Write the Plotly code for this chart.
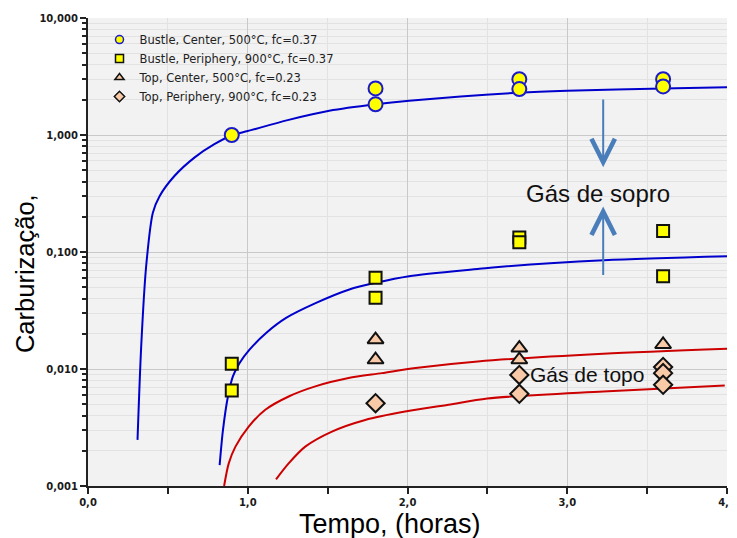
import math
import plotly.graph_objects as go

# ---------------- data ----------------
circle_x = [0.9, 1.8, 1.8, 2.7, 2.7, 3.6, 3.6]
circle_y = [1.0, 2.50, 1.83, 3.0, 2.47, 3.0, 2.6]

square_x = [0.9, 0.9, 1.8, 1.8, 2.7, 2.7, 3.6, 3.6]
square_y = [0.0111, 0.00655, 0.0601, 0.0406, 0.133, 0.121, 0.151, 0.0621]

tri_x = [1.8, 1.8, 2.7, 2.7, 3.6]
tri_y = [0.0178, 0.0120, 0.0151, 0.0120, 0.0162]

dia_x = [1.8, 2.7, 2.7, 3.6, 3.6, 3.6]
dia_y = [0.0051, 0.0089, 0.00614, 0.0104, 0.00922, 0.00733]

blue1_x = [0.31, 0.333, 0.364, 0.406, 0.448, 0.541, 0.666, 0.791, 0.905, 1.0, 1.25, 1.51, 1.80, 2.01, 2.70, 3.0, 3.60, 4.0]
blue1_y = [0.00248, 0.0156, 0.0755, 0.217, 0.30, 0.446, 0.641, 0.834, 1.0, 1.08, 1.34, 1.61, 1.83, 1.96, 2.30, 2.39, 2.50, 2.56]

blue2_x = [0.824, 0.845, 0.876, 0.907, 0.949, 1.011, 1.115, 1.240, 1.428, 1.636, 1.80, 2.01, 2.45, 2.57, 3.23, 4.0]
blue2_y = [0.00151, 0.00302, 0.00582, 0.00864, 0.01125, 0.01463, 0.0203, 0.0273, 0.0367, 0.0478, 0.0545, 0.0621, 0.0718, 0.0746, 0.0851, 0.092]

red1_x = [0.852, 0.881, 0.923, 1.006, 1.11, 1.256, 1.423, 1.631, 1.84, 2.05, 2.44, 3.225, 4.0]
red1_y = [0.001, 0.00156, 0.00217, 0.00322, 0.00448, 0.00582, 0.0071, 0.00836, 0.00922, 0.0102, 0.0116, 0.0135, 0.0149]

red2_x = [1.177, 1.256, 1.36, 1.527, 1.735, 1.985, 2.256, 2.5, 3.225, 3.986]
red2_y = [0.00114, 0.00156, 0.00217, 0.00292, 0.00367, 0.00433, 0.00494, 0.0056, 0.00643, 0.00723]

legend_names = ["Bustle, Center, 500°C, fc=0.37", "Bustle, Periphery, 900°C, fc=0.37",
                "Top, Center, 500°C, fc=0.23", "Top, Periphery, 900°C, fc=0.23"]

x_tickvals = [0, 1, 2, 3, 4]
x_ticktext = ["0,0", "1,0", "2,0", "3,0", "4,0"]
x_minorvals = [0.5, 1.5, 2.5, 3.5]
y_tickvals = [0.001, 0.01, 0.1, 1, 10]
y_ticktext = ["0,001", "0,010", "0,100", "1,000", "10,000"]
y_minorvals = [m * d for d in [0.001, 0.01, 0.1, 1] for m in range(2, 10)]

# arrows / labels (data coords)
arrow_x = 3.225
down_arrow_y = [2.07, 0.53]
up_arrow_y = [0.0616, 0.245]
sopro_pos = (3.19, 0.317)
topo_pos = (2.756, 0.0089)

# ---------------- figure ----------------
BLUE = "#0000cc"
RED = "#cc0000"
YEL = "#ffff00"
PEACH = "#f9caa7"

fig = go.Figure()
for xs, ys, c in [(blue1_x, blue1_y, BLUE), (blue2_x, blue2_y, BLUE),
                  (red1_x, red1_y, RED), (red2_x, red2_y, RED)]:
    fig.add_trace(go.Scatter(x=xs, y=ys, mode="lines", showlegend=False, hoverinfo="skip",
                             line=dict(color=c, width=2, shape="spline", smoothing=0.8)))

marker_specs = [
    (circle_x, circle_y, "circle", YEL, "#1a1acc", 14),
    (square_x, square_y, "square", YEL, "#111111", 12),
    (tri_x, tri_y, "triangle-up", PEACH, "#111111", 14),
    (dia_x, dia_y, "diamond", PEACH, "#111111", 14),
]
for (xs, ys, sym, fill, edge, sz), name in zip(marker_specs, legend_names):
    fig.add_trace(go.Scatter(x=xs, y=ys, mode="markers", showlegend=False, name=name,
                             marker=dict(symbol=sym, color=fill, size=sz,
                                         line=dict(color=edge, width=2))))
for i, ((xs, ys, sym, fill, edge, sz), name) in enumerate(zip(marker_specs, legend_names)):
    fig.add_trace(go.Scatter(x=[None], y=[None], mode="markers", name=name, legendgroup=str(i),
                             marker=dict(symbol=sym, color=fill, size=8,
                                         line=dict(color=edge, width=1.5))))

ARROWC = "#4a7ebb"
for y0, y1 in [down_arrow_y, up_arrow_y]:
    fig.add_annotation(x=arrow_x, y=math.log10(y1), ax=arrow_x, ay=math.log10(y0),
                       xref="x", yref="y", axref="x", ayref="y",
                       showarrow=True, arrowhead=5, arrowsize=2.3, arrowwidth=2, arrowcolor=ARROWC,
                       text="")

fig.add_annotation(x=sopro_pos[0], y=math.log10(sopro_pos[1]), xref="x", yref="y",
                   text="Gás de sopro", showarrow=False,
                   font=dict(family="Liberation Sans, Arial", size=24, color="#111111"))
fig.add_annotation(x=topo_pos[0], y=math.log10(topo_pos[1]), xref="x", yref="y", xanchor="left",
                   text="Gás de topo", showarrow=False,
                   font=dict(family="Liberation Sans, Arial", size=21, color="#111111"))

fig.add_annotation(x=0.473, y=-0.081, xref="paper", yref="paper", xanchor="center", yanchor="middle",
                   text="Tempo, (horas)", showarrow=False,
                   font=dict(family="Liberation Sans, Arial", size=27, color="#000"))
fig.add_annotation(x=-0.0986, y=0.455, xref="paper", yref="paper", xanchor="center", yanchor="middle",
                   text="Carburização,", textangle=-90, showarrow=False,
                   font=dict(family="Liberation Sans Narrow, Arial Narrow, Liberation Sans", size=25.5, color="#000"))

tickfont = dict(family="DejaVu Sans", size=10, color="#1a1a1a", weight="bold")
fig.update_xaxes(range=[0, 4], tickvals=x_tickvals, ticktext=x_ticktext, tickfont=tickfont,
                 automargin=False,
                 showline=True, linecolor="#222222", linewidth=2, ticks="outside", ticklen=6,
                 tickcolor="#222222", tickwidth=1.5,
                 showgrid=True, gridcolor="#c9c9c9", gridwidth=1, zeroline=False,
                 minor=dict(tickvals=x_minorvals, ticks="outside", ticklen=6, tickcolor="#222222",
                            showgrid=True, gridcolor="#e2e2e2", gridwidth=1))
fig.update_yaxes(type="log", range=[-3, 1], tickvals=y_tickvals, ticktext=y_ticktext, tickfont=tickfont,
                 automargin=False,
                 showline=True, linecolor="#222222", linewidth=2, ticks="outside", ticklen=6,
                 tickcolor="#222222", tickwidth=1.5,
                 showgrid=True, gridcolor="#c9c9c9", gridwidth=1, zeroline=False,
                 minor=dict(tickvals=y_minorvals, ticks="outside", ticklen=4, tickcolor="#222222",
                            showgrid=True, gridcolor="#e2e2e2", gridwidth=1))

# page body adds an 8 px offset; margins compensate so the plot lands where the reference's does
fig.update_layout(
    width=729, height=530,
    margin=dict(l=80, r=10, t=10, b=52, autoexpand=False),
    paper_bgcolor="white", plot_bgcolor="#f2f2f2",
    legend=dict(x=0.018, y=0.985, xanchor="left", yanchor="top", bgcolor="rgba(0,0,0,0)",
                font=dict(family="DejaVu Sans", size=11.5, color="#222222"),
                tracegroupgap=0, itemwidth=30),
)

fig.write_html("out.html")
